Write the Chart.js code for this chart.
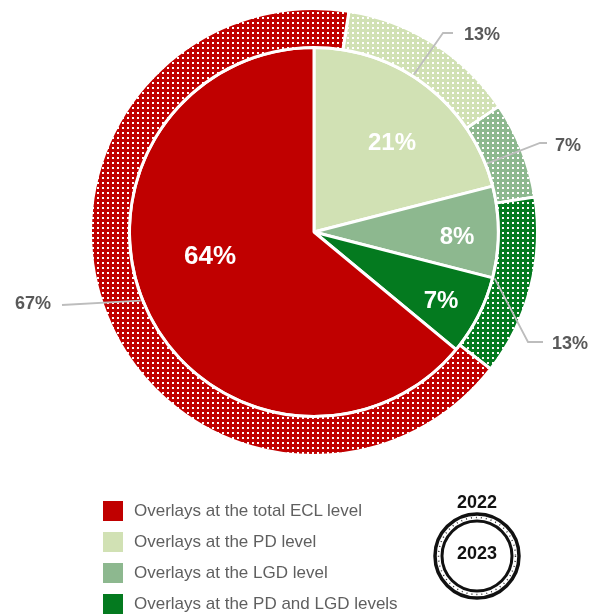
<!DOCTYPE html>
<html>
<head>
<meta charset="utf-8">
<script src="https://cdn.jsdelivr.net/npm/chart.js@4.4.1/dist/chart.umd.min.js"></script>
<style>
    body { margin: 0; background: #fff; font-family: "Liberation Sans", Arial, sans-serif; }
    #wrap { position: relative; width: 589px; height: 614px; }
    #chart { position: absolute; left: 0; top: 0; }
    .legend { position: absolute; left: 103px; top: 0; }
    .legend .row { position: absolute; left: 0; height: 20px; white-space: nowrap; }
    .legend .box { position: absolute; left: 0; top: 0; width: 20px; height: 20px; }
    .legend .txt { position: absolute; left: 31px; top: -1px; font-size: 17px; line-height: 22px; color: #5f5f5f; }
    #years { position: absolute; left: 420px; top: 480px; }
</style>
</head>
<body>
<div id="wrap">
    <canvas id="chart" width="589" height="614"></canvas>
    <div class="legend" id="legend"></div>
    <svg id="years" width="120" height="134">
        <text x="57" y="28" text-anchor="middle" font-family="Liberation Sans Narrow, Liberation Sans, Arial" font-weight="bold" font-size="18" fill="#111">2022</text>
        <circle cx="57" cy="76" r="42" fill="none" stroke="#111" stroke-width="3.5"/>
        <circle cx="57" cy="76" r="38.5" fill="none" stroke="#333" stroke-width="1.5" stroke-dasharray="1 4"/>
        <circle cx="57" cy="76" r="35" fill="none" stroke="#111" stroke-width="3"/>
        <text x="57" y="79" text-anchor="middle" font-family="Liberation Sans Narrow, Liberation Sans, Arial" font-weight="bold" font-size="18" fill="#111">2023</text>
    </svg>
</div>
<script>
(function () {
    "use strict";

    // Data (clockwise from 12 o'clock)
    var categories = ["Overlays at the PD level", "Overlays at the LGD level",
                      "Overlays at the PD and LGD levels", "Overlays at the total ECL level"];
    var colors = ["#D1E1B4", "#8DB88F", "#047A1F", "#C00000"];
    var values2022 = [13, 7, 13, 67];   // outer ring
    var values2023 = [21, 8, 7, 64];    // inner pie
    var legendOrder = [3, 0, 1, 2];

    // dotted fill for the 2022 ring
    function dotted(color) {
        var c = document.createElement("canvas");
        c.width = 5; c.height = 5;
        var g = c.getContext("2d");
        g.fillStyle = color;
        g.fillRect(0, 0, 5, 5);
        g.fillStyle = "#FFFFFF";
        g.fillRect(2, 2, 2, 2);
        return g.createPattern(c, "repeat");
    }

    // Label layout
    var innerLabelPos = [[392, 143], [457, 237], [441, 301], [210, 257]];
    var outerLabelPos = [[482, 35], [568, 146], [570, 344], [33, 304]];
    var outerElbow = [[443, 33], [540, 143], [528, 342], [62, 305]];
    var outerLineEnd = [[453, 33], [547, 143], [543, 342], [62, 305]];

    var labelPlugin = {
        id: "pieLabels",
        afterDatasetsDraw: function (chart) {
            var ctx = chart.ctx;
            ctx.save();
            // leader lines + outer labels
            var outer = chart.getDatasetMeta(0).data;
            ctx.strokeStyle = "#BDBDBD";
            ctx.lineWidth = 1.8;
            outer.forEach(function (arc, i) {
                var p = arc.getProps(["x", "y", "startAngle", "endAngle", "innerRadius"], true);
                var mid = (p.startAngle + p.endAngle) / 2;
                var r = p.innerRadius + 2;
                ctx.beginPath();
                ctx.moveTo(p.x + r * Math.cos(mid), p.y + r * Math.sin(mid));
                ctx.lineTo(outerElbow[i][0], outerElbow[i][1]);
                ctx.lineTo(outerLineEnd[i][0], outerLineEnd[i][1]);
                ctx.stroke();
            });
            ctx.textAlign = "center";
            ctx.textBaseline = "middle";
            ctx.fillStyle = "#595959";
            ctx.font = "bold 18px 'Liberation Sans', Arial, sans-serif";
            values2022.forEach(function (v, i) {
                ctx.fillText(v + "%", outerLabelPos[i][0], outerLabelPos[i][1]);
            });
            // inner labels
            ctx.fillStyle = "#FFFFFF";
            values2023.forEach(function (v, i) {
                ctx.font = (i === 3 ? "bold 26px" : "bold 24px") + " 'Liberation Sans', Arial, sans-serif";
                ctx.fillText(v + "%", innerLabelPos[i][0], innerLabelPos[i][1]);
            });
            ctx.restore();
        }
    };

    var ctx = document.getElementById("chart").getContext("2d");
    new Chart(ctx, {
        type: "pie",
        data: {
            labels: categories,
            datasets: [{
                label: "2022",
                data: values2022,
                backgroundColor: colors.map(dotted),
                borderColor: "#FFFFFF",
                borderWidth: 3,
                rotation: 9,
                weight: 39
            }, {
                label: "2023",
                data: values2023,
                backgroundColor: colors,
                borderColor: "#FFFFFF",
                borderWidth: 3,
                rotation: 0,
                weight: 184.5
            }]
        },
        options: {
            responsive: false,
            animation: false,
            radius: 223.5,
            layout: { padding: { left: 91, right: 52, top: 9, bottom: 159 } },
            plugins: {
                legend: { display: false },
                tooltip: { enabled: false }
            }
        },
        plugins: [labelPlugin]
    });

    // HTML legend
    var legend = document.getElementById("legend");
    var rowTops = [501, 532, 563, 594];
    legendOrder.forEach(function (idx, k) {
        var row = document.createElement("div");
        row.className = "row";
        row.style.top = rowTops[k] + "px";
        row.innerHTML = '<div class="box" style="background:' + colors[idx] + '"></div>' +
                        '<div class="txt">' + categories[idx] + '</div>';
        legend.appendChild(row);
    });
})();
</script>
</body>
</html>
